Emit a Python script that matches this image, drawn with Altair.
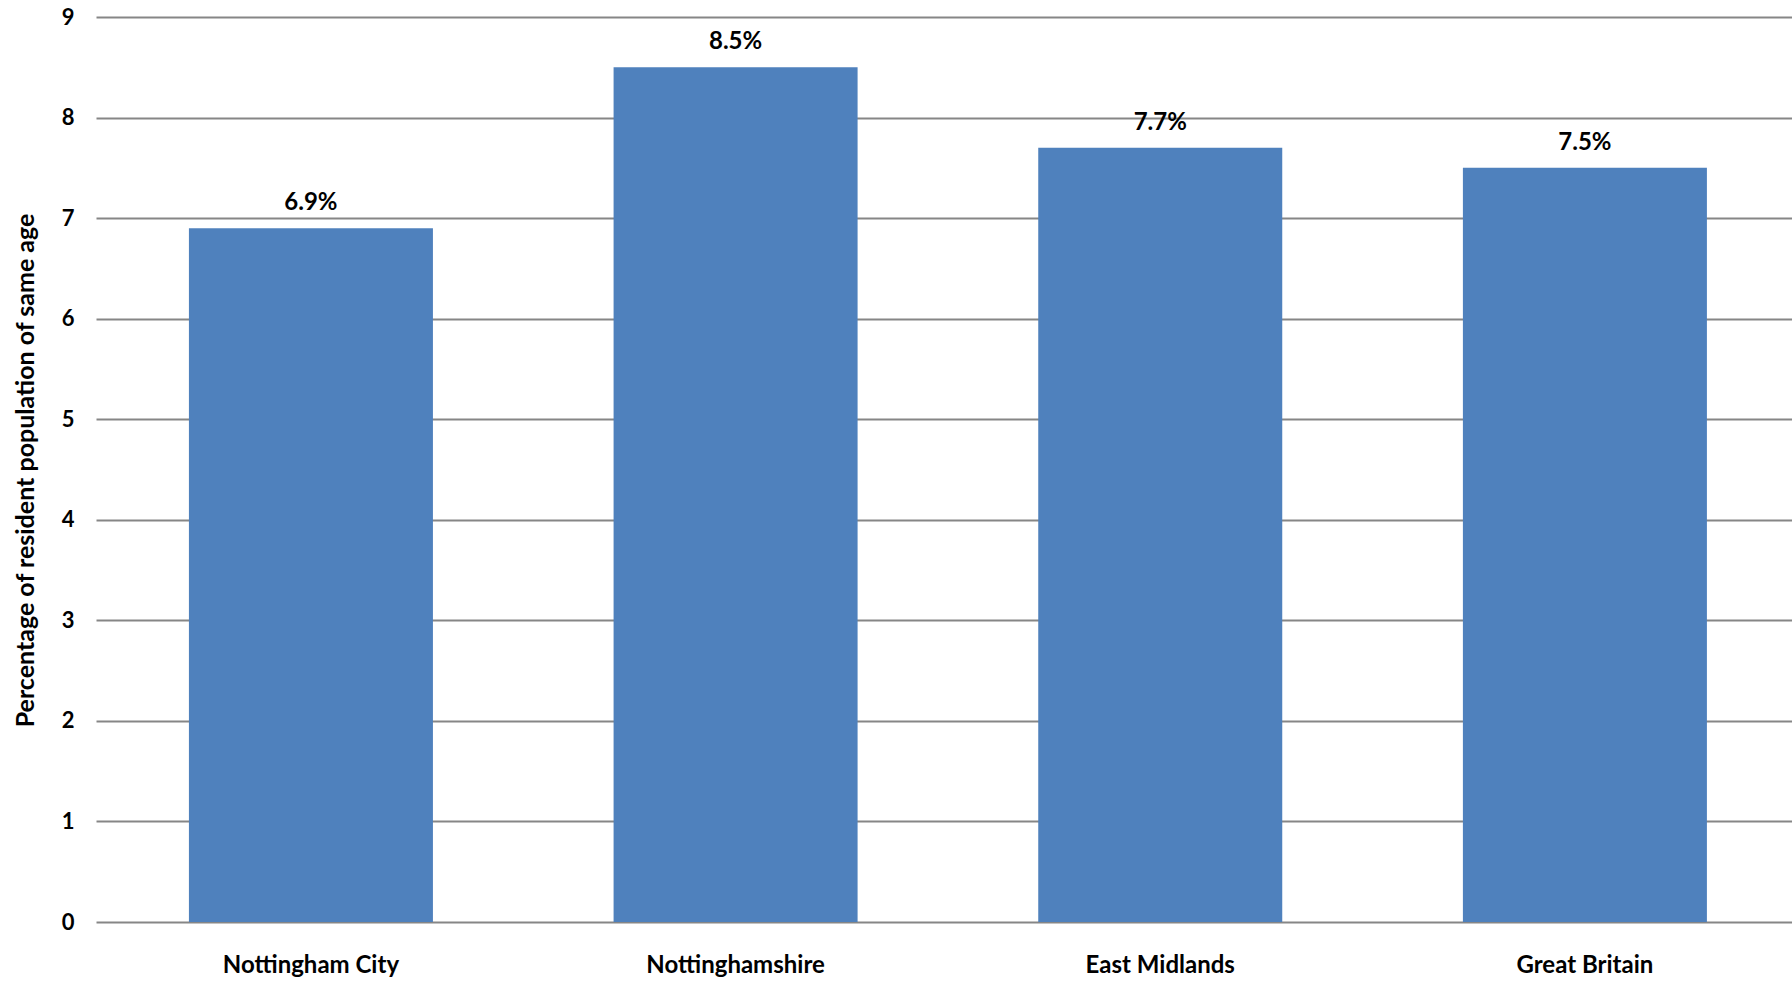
import altair as alt
import pandas as pd

categories = ["Nottingham City", "Nottinghamshire", "East Midlands", "Great Britain"]
values = [6.9, 8.5, 7.7, 7.5]
labels = ["6.9%", "8.5%", "7.7%", "7.5%"]

df = pd.DataFrame({"cat": categories, "val": values, "lab": labels})

FONT = "Lato"

x = alt.X("cat:N", sort=categories, title=None,
          scale=alt.Scale(paddingInner=0.4254, paddingOuter=0.2096, align=0.522),
          axis=alt.Axis(labelAngle=0, labelFont=FONT, labelFontSize=24, labelFontWeight="bold",
                        labelColor="#000000", labelPadding=31, ticks=False, domain=False, grid=False))
y = alt.Y("val:Q", title="Percentage of resident population of same age",
          scale=alt.Scale(domain=[0, 9], nice=False),
          axis=alt.Axis(values=list(range(10)), format="d", labelFont=FONT, labelFontSize=22,
                        labelFontWeight="bold", labelColor="#000000", labelPadding=22,
                        ticks=False, domain=False, gridColor="#868686", gridWidth=2,
                        gridOpacity=1,
                        titleFont=FONT, titleFontSize=25, titleFontWeight="bold",
                        titleColor="#000000", titleAngle=-90, titleAlign="center",
                        titleBaseline="middle", titleX=-71, titleY=453))

bars = alt.Chart(df).mark_bar(color="#4F81BD").encode(x=x, y=y)
text = alt.Chart(df).mark_text(dy=-25, font=FONT, fontSize=24, fontWeight="bold",
                               color="#000000").encode(x=x, y=y, text="lab:N")

chart = (bars + text).properties(
    width=1696, height=905,
    background="#FFFFFF",
    autosize=alt.AutoSizeParams(type="none"),
    padding={"left": 96, "top": 17, "right": 0, "bottom": 59},
).configure_view(stroke=None)

chart.save("out.html", embed_options={"renderer": "svg", "actions": False})
